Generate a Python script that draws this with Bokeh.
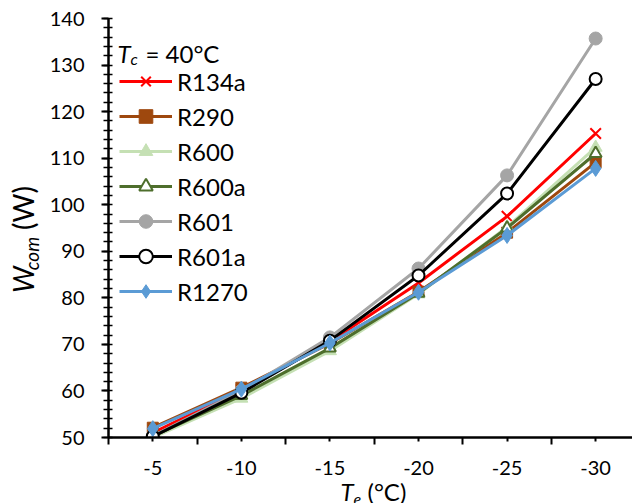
from math import pi
from bokeh.plotting import figure
from bokeh.layouts import row, column
from bokeh.models import Range1d, FixedTicker, Legend, LegendItem, Label
from bokeh.core.properties import value
from bokeh.embed import file_html
from bokeh.resources import INLINE

# ---- data ----
te = [-5, -10, -15, -20, -25, -30]
te_labels = ["-5", "-10", "-15", "-20", "-25", "-30"]
r134a = [51.0, 60.3, 70.6, 83.2, 97.5, 115.3]
r290 = [52.1, 60.7, 70.2, 81.3, 94.0, 109.1]
r600 = [50.0, 58.4, 68.6, 80.8, 95.2, 112.3]
r600a = [50.3, 59.0, 69.2, 81.0, 95.0, 111.0]
r601 = [50.3, 60.0, 71.5, 86.3, 106.3, 135.7]
r601a = [50.2, 59.6, 70.8, 84.8, 102.4, 127.0]
r1270 = [51.9, 60.4, 70.3, 81.2, 93.4, 107.8]
names = ["R134a", "R290", "R600", "R600a", "R601", "R601a", "R1270"]
y_ticks = [50, 60, 70, 80, 90, 100, 110, 120, 130, 140]
x_minor = [-2.5, -7.5, -12.5, -17.5, -22.5, -27.5, -32.5]
y_minor = list(range(50, 141, 2))

FONT = "Lato"
TOP_H = 481
LEFT_W = 46


def strip(w, h):
    f = figure(width=w, height=h, output_backend="svg", toolbar_location=None,
               x_range=Range1d(0, w), y_range=Range1d(0, h),
               x_axis_type=None, y_axis_type=None,
               min_border_left=0, min_border_right=0, min_border_top=0,
               min_border_bottom=0)
    f.outline_line_color = None
    f.xgrid.visible = False
    f.ygrid.visible = False
    return f


def stext(f, txt, x, y, size, italic=False, angle=0.0, align="left",
          baseline="middle"):
    f.text(x=[x], y=[y], text=[txt], angle=angle,
           text_font=value(FONT), text_font_size=size,
           text_font_style="italic" if italic else "normal",
           text_color="black", text_align=align, text_baseline=baseline)


# ---- left strip: vertical y-axis title  W_com (W) ----
yt = strip(LEFT_W, TOP_H)
stext(yt, "W", 22.2, 181.3, "28px", italic=True, angle=pi / 2,
      align="center")
stext(yt, "com", 31.1, 211.2, "19px", italic=True, angle=pi / 2,
      align="center")
stext(yt, "(W)", 22.2, 263.5, "28px", angle=pi / 2, align="center")

# ---- bottom strip: x-axis title  T_e (°C) ----
xt = strip(632, 503 - TOP_H)
stext(xt, "T", 340, 12.3, "24px", italic=True)
stext(xt, "e", 353, 4.2, "16px", italic=True)
stext(xt, "(°C)", 367, 12.3, "24px")

# ---- main plot ----
p = figure(width=632 - LEFT_W, height=TOP_H, output_backend="svg",
           toolbar_location=None,
           x_range=Range1d(-2.5, -32.08), y_range=Range1d(50, 140),
           min_border_left=106 - LEFT_W, min_border_right=0,
           min_border_top=18, min_border_bottom=TOP_H - 437)
p.outline_line_color = None
p.xgrid.visible = False
p.ygrid.visible = False

xa = p.xaxis[0]
xa.ticker = FixedTicker(ticks=te, minor_ticks=x_minor)
xa.major_label_overrides = {t: s for t, s in zip(te, te_labels)}
xa.axis_line_width = 2.5
xa.axis_line_color = "black"
xa.major_tick_line_width = 2
xa.major_tick_line_color = "black"
xa.major_tick_out = 4
xa.major_tick_in = 0
xa.minor_tick_line_width = 2
xa.minor_tick_line_color = "black"
xa.minor_tick_out = 7
xa.minor_tick_in = 0
xa.major_label_standoff = 16
xa.major_label_text_font = FONT
xa.major_label_text_font_size = "20px"
xa.major_label_text_color = "black"

ya = p.yaxis[0]
ya.ticker = FixedTicker(ticks=y_ticks, minor_ticks=y_minor)
ya.axis_line_width = 2.5
ya.axis_line_color = "black"
ya.major_tick_line_width = 2
ya.major_tick_line_color = "black"
ya.major_tick_out = 7
ya.major_tick_in = 0
ya.minor_tick_line_width = 1.5
ya.minor_tick_line_color = "black"
ya.minor_tick_out = 5
ya.minor_tick_in = 4
ya.major_label_standoff = 17
ya.major_label_text_font = FONT
ya.major_label_text_font_size = "20px"
ya.major_label_text_color = "black"

series = [
    (names[0], r134a, "#FF0000", "x", 15, "#FF0000", 2),
    (names[1], r290, "#9E480E", "square", 11, "#9E480E", 1),
    (names[2], r600, "#C5E0B4", "triangle", 13, "#C5E0B4", 1),
    (names[3], r600a, "#4E6E2C", "triangle", 12, "white", 2),
    (names[4], r601, "#A5A5A5", "circle", 13, "#A5A5A5", 1),
    (names[5], r601a, "#000000", "circle", 12, "white", 2),
    (names[6], r1270, "#5B9BD5", "diamond", 16, "#5B9BD5", 1),
]

items = []
for name, vals, col, mk, sz, fill, lw in series:
    rl = p.line(te, vals, line_color=col, line_width=3)
    rs = p.scatter(te, vals, marker=mk, size=sz, fill_color=fill,
                   line_color=col, line_width=lw)
    items.append(LegendItem(label=name, renderers=[rl, rs]))

legend = Legend(items=items, location="top_left", title=" ",
                title_text_font_size="22px", title_standoff=9,
                padding=11, margin=0, spacing=1, glyph_width=53,
                glyph_height=34, label_height=34, label_standoff=5,
                label_text_font=FONT, label_text_font_size="24px",
                label_text_color="black",
                background_fill_alpha=0, border_line_alpha=0)
p.add_layout(legend)


def lab(text, x, y, size, italic=False):
    p.add_layout(Label(x=x, y=y, x_units="screen", y_units="screen",
                       text=text, text_font=FONT, text_font_size=size,
                       text_font_style="italic" if italic else "normal",
                       text_color="black", text_align="left",
                       text_baseline="alphabetic"))


# legend title  T_c = 40°C
lab("T", 9, 384, "24px", italic=True)
lab("c", 22, 379, "16px", italic=True)
lab("= 40°C", 37, 384, "24px")

layout = column(row(yt, p, spacing=0), xt, spacing=0)
open("out.html", "w").write(file_html(layout, INLINE))
